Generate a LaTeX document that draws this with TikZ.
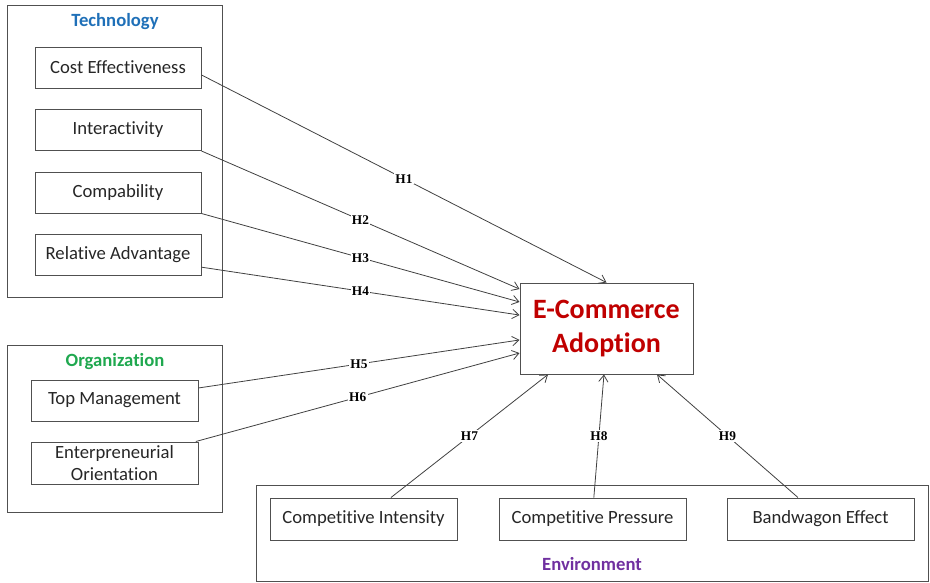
\documentclass[tikz,border=0pt]{standalone}
\usepackage{fontspec}
\setmainfont[Ligatures={NoCommon}]{Carlito}
\newfontfamily\hfont{Liberation Serif}
\usetikzlibrary{arrows.meta,calc}
\definecolor{techblue}{HTML}{1F70B8}
\definecolor{orggreen}{HTML}{1FA84F}
\definecolor{envpurple}{HTML}{7030A0}
\definecolor{adred}{HTML}{C00000}
\definecolor{boxgray}{HTML}{505050}
\tikzset{
  grp/.style={draw=boxgray, line width=0.75pt, inner sep=0pt},
  bx/.style={draw=boxgray, line width=0.75pt, inner sep=0pt, align=center,
    font=\fontsize{14}{15.5}\selectfont, text=black!85},
  ttl/.style={font=\fontsize{14}{15.5}\selectfont\bfseries},
  lnk/.style={draw=black!75, line width=0.6pt, -{Straight Barb[length=5pt,width=7pt]}},
  hl/.style={fill=white, inner sep=1pt, font=\hfont\fontsize{10}{11}\selectfont\bfseries, pos=0.5}
}
\begin{document}
\begin{tikzpicture}[x=0.75pt,y=-0.75pt]
\useasboundingbox (0,0) rectangle (930,582);
% groups
\node[grp, minimum width=161.25pt, minimum height=219pt] (techgrp) at (114.5,151) {};
\node[grp, minimum width=161.25pt, minimum height=125.25pt] (orggrp) at (114.5,428.5) {};
\node[grp, minimum width=504pt, minimum height=72pt] (envgrp) at (592,533) {};
% titles
\node[ttl, text=techblue] (techttl) at (115,22) {Technology};
\node[ttl, text=orggreen] (orgttl) at (115,362) {Organization};
\node[ttl, text=envpurple] (envttl) at (592,564) {Environment};
% technology boxes
\node[bx, minimum width=124.5pt, minimum height=30.75pt] (cost) at (118,67.5) {Cost Effectiveness};
\node[bx, minimum width=124.5pt, minimum height=30.75pt] (inter) at (118,130) {Interactivity};
\node[bx, minimum width=124.5pt, minimum height=30.75pt] (comp) at (118,192.5) {Compability};
\node[bx, minimum width=124.5pt, minimum height=30.75pt] (relad) at (118,254.5) {Relative Advantage};
% organization boxes
\node[bx, minimum width=125.25pt, minimum height=30.75pt] (topm) at (114.5,400.5) {Top Management};
\node[bx, minimum width=125.25pt, minimum height=31.5pt, font=\fontsize{14}{16.5}\selectfont] (entor) at (114.5,463) {Enterpreneurial\\Orientation};
% environment boxes
\node[bx, minimum width=140.25pt, minimum height=31.5pt] (cint) at (363.5,519) {Competitive Intensity};
\node[bx, minimum width=140.25pt, minimum height=31.5pt] (cpres) at (592.5,519) {Competitive Pressure};
\node[bx, minimum width=140.25pt, minimum height=31.5pt] (bwag) at (820.5,519) {Bandwagon Effect};
% adoption
\node[bx, minimum width=129.75pt, minimum height=68.25pt, text=adred,
  font=\fontsize{21}{25}\selectfont\bfseries] (eca) at (606.5,328.5) {E-Commerce\\Adoption};
% links
\draw[lnk] ([yshift=-5.6pt]cost.east) -- node[hl]{H1} (eca.north);
\draw[lnk] (inter.south east) -- node[hl]{H2} ([yshift=29.6pt]eca.west);
\draw[lnk] (comp.south east) -- node[hl]{H3} ([yshift=19.9pt]eca.west);
\draw[lnk] ([yshift=-9.5pt]relad.east) -- node[hl]{H4} ([yshift=10.1pt]eca.west);
\draw[lnk] ([yshift=9.4pt]topm.east) -- node[hl]{H5} ([yshift=-8.6pt]eca.west);
\draw[lnk] ([xshift=-2pt]entor.north east) -- node[hl]{H6} ([yshift=-18.4pt]eca.west);
\draw[lnk] ([xshift=20.6pt]cint.north) -- node[hl]{H7} ([xshift=-43.9pt]eca.south);
\draw[lnk] ([xshift=1pt]cpres.north) -- node[hl]{H8} ([xshift=-1.9pt]eca.south);
\draw[lnk] ([xshift=-16.9pt]bwag.north) -- node[hl]{H9} ([xshift=37.9pt]eca.south);
\end{tikzpicture}
\end{document}
